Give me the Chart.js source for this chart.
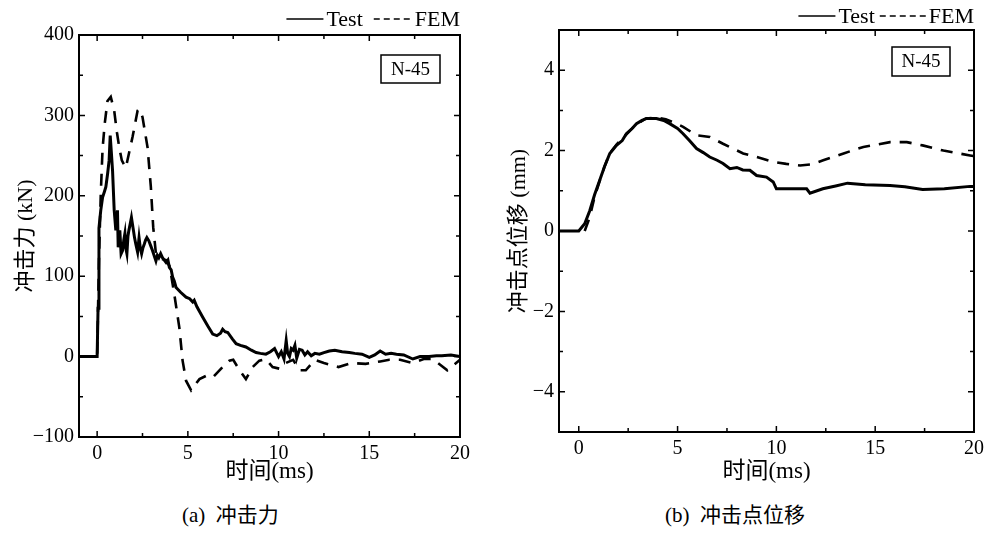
<!DOCTYPE html>
<html>
<head>
<meta charset="utf-8">
<script src="https://cdn.jsdelivr.net/npm/chart.js@4.4.1/dist/chart.umd.min.js"></script>
<style>
  body { margin: 0; background: #fff; width: 992px; height: 533px; position: relative; overflow: hidden; }
  canvas { position: absolute; top: 0; }
  .cap { position: absolute; top: 498px; font: 21px 'Liberation Serif', 'Noto Sans CJK SC', serif; color: #000; white-space: pre; }
</style>
</head>
<body>
<canvas id="forceChart" width="496" height="490" style="left:0"></canvas>
<canvas id="dispChart" width="496" height="490" style="left:496px"></canvas>
<div class="cap" style="left:182px">(a)  冲击力</div>
<div class="cap" style="left:665px">(b)  冲击点位移</div>
<script>
// (a) impact force, kN
var forceTestT = [-1, 0, 0.05, 0.1, 0.2, 0.3, 0.4, 0.48, 0.58, 0.66,
  0.72, 0.78, 0.85, 0.94, 1.03, 1.12, 1.16, 1.25, 1.32, 1.4,
  1.47, 1.53, 1.58, 1.64, 1.7, 1.75, 1.82, 1.89, 2.0, 2.06,
  2.13, 2.23, 2.31, 2.38, 2.45, 2.52, 2.6, 2.67, 2.74, 2.85,
  2.95, 3.05, 3.15, 3.24, 3.32, 3.4, 3.5, 3.6, 3.7, 3.8,
  3.9, 3.98, 4.08, 4.16, 4.25, 4.35, 4.6, 4.9, 5.1, 5.27,
  5.35, 5.5, 5.82, 6.1, 6.37, 6.6, 6.8, 6.92, 7.05, 7.2,
  7.45, 7.66, 7.9, 8.2, 8.5, 8.76, 9.0, 9.3, 9.55, 9.78,
  10.0, 10.15, 10.3, 10.42, 10.5, 10.6, 10.7, 10.8, 10.9, 11.0,
  11.15, 11.3, 11.45, 11.6, 11.8, 12.0, 12.25, 12.5, 12.8, 13.1,
  13.5, 13.9, 14.2, 14.6, 15.0, 15.3, 15.6, 15.9, 16.2, 16.5,
  16.9, 17.4, 17.8, 18.3, 18.7, 19.0, 19.5, 20];
var forceTest = [0, 0, 60, 160, 182, 198, 205, 211, 228, 244,
  275, 255, 231, 182, 157, 182, 136, 157, 128, 132,
  145, 153, 135, 128, 150, 157, 165, 173, 157, 148,
  140, 130, 148, 135, 128, 135, 140, 145, 148, 144,
  138, 132, 125, 119, 126, 123, 128, 123, 120, 117,
  120, 111, 108, 99, 94, 86, 80, 74, 72, 68,
  70, 62, 49, 38, 28, 26, 29, 34, 31, 30,
  22, 16, 14, 12, 8, 5, 4, 3, 6, 10,
  0, 6, -3, 20, 4, 0, 10, 8, 14, -2,
  9, 8, 2, 6, 1, 4, 3, 5, 7, 8,
  6, 5, 4, 3, -1, 2, 7, 3, 4, 3,
  2, -3, 0, 0, 1, 1, 2, 0];
var forceFemT = [-1, 0, 0.1, 0.2, 0.3, 0.42, 0.57, 0.75, 0.94, 1.09, 1.22, 1.36, 1.58, 1.95, 2.23, 2.32, 2.5, 2.78, 2.96, 3.09,
  3.24, 3.5, 3.8, 4.0, 4.25, 4.53, 4.71, 4.9, 5.18, 5.4, 5.64, 6.0, 6.37, 6.92, 7.29, 7.5, 7.85, 8.2, 8.57, 8.94,
  9.3, 9.67, 10.04, 10.4, 10.8, 11.16, 11.5, 12.0, 12.5, 13.3, 14.0, 14.8, 15.6, 16.1, 16.7, 17.4, 18.0, 18.5, 19.3, 20];
var forceFem = [0, 0, 120, 202, 259, 290, 318, 323, 306, 279, 260, 244, 235, 273, 306, 308, 298, 260, 211, 161,
  128, 122, 120, 112, 78, 36, -5, -30, -42, -35, -28, -24, -26, -13, -5, -4, -17, -28, -13, -5,
  -3, -13, -15, -8, -4, -17, -17, -4, -8, -13, -8, -9, -6, -4, -4, -8, -3, -3, -17, -4];

// (b) impact point displacement, mm
var dispTestT = [-1, 0, 0.3, 0.56, 0.8, 1.06, 1.3, 1.57, 1.91, 2.2, 2.41, 2.7, 2.92, 3.2, 3.43, 3.7, 3.93, 4.3, 4.6, 5.0,
  5.28, 5.6, 5.96, 6.3, 6.63, 7.0, 7.3, 7.65, 8.0, 8.3, 8.66, 9.0, 9.5, 9.84, 10.0, 10.7, 11.53, 11.7, 12.35, 13.0,
  13.6, 14.5, 15.75, 16.5, 17.4, 18.5, 19.8, 20];
var dispTest = [0, 0, 0.18, 0.51, 0.9, 1.26, 1.6, 1.93, 2.13, 2.25, 2.42, 2.55, 2.67, 2.75, 2.8, 2.8, 2.8, 2.75, 2.67, 2.55,
  2.42, 2.25, 2.05, 1.95, 1.84, 1.76, 1.68, 1.55, 1.58, 1.52, 1.51, 1.38, 1.34, 1.22, 1.05, 1.05, 1.05, 0.94, 1.05, 1.12,
  1.19, 1.15, 1.13, 1.1, 1.03, 1.05, 1.11, 1.11];
var dispFemT = [0.3, 0.56, 0.8, 1.06, 1.3, 1.57, 1.91, 2.2, 2.5, 2.9, 3.4, 3.9, 4.4, 4.9, 5.28, 5.96, 6.63, 7.3, 8.32, 9.0,
  9.84, 10.5, 11.2, 11.8, 12.37, 13.4, 14.4, 15.75, 16.6, 17.4, 18.45, 19.8, 20];
var dispFem = [0, 0.35, 0.85, 1.25, 1.6, 1.93, 2.15, 2.3, 2.45, 2.65, 2.8, 2.82, 2.78, 2.68, 2.59, 2.38, 2.34, 2.17, 1.93, 1.84,
  1.72, 1.67, 1.63, 1.66, 1.76, 1.93, 2.09, 2.21, 2.21, 2.13, 2.0, 1.88, 1.86];

var xTicks = [0, 5, 10, 15, 20];
var forceTicks = [-100, 0, 100, 200, 300, 400];
var dispTicks = [-4, -2, 0, 2, 4];

var serif = "'Liberation Serif', 'Times New Roman', serif";
var cjk = "'Liberation Serif', 'Noto Sans CJK SC', serif";

function pairs(xs, ys) {
  return xs.map(function (x, i) { return { x: x, y: ys[i] }; });
}
function minus(v) { return v < 0 ? '\u2212' + Math.abs(v) : '' + v; }

// frame with inward ticks on all four sides, sample box, legend above the plot
var framePlugin = {
  id: 'frame',
  afterDraw: function (chart, args, opts) {
    var ctx = chart.ctx, a = chart.chartArea;
    var xs = chart.scales.x, ys = chart.scales.y;
    ctx.save();
    ctx.strokeStyle = '#000';
    ctx.lineWidth = 1.5;
    function tick(v, len, isX) {
      if (isX) {
        var px = xs.getPixelForValue(v);
        ctx.beginPath();
        ctx.moveTo(px, a.bottom); ctx.lineTo(px, a.bottom - len);
        ctx.moveTo(px, a.top); ctx.lineTo(px, a.top + len);
        ctx.stroke();
      } else {
        var py = ys.getPixelForValue(v);
        ctx.beginPath();
        ctx.moveTo(a.left, py); ctx.lineTo(a.left + len, py);
        ctx.moveTo(a.right, py); ctx.lineTo(a.right - len, py);
        ctx.stroke();
      }
    }
    for (var v = 0; v <= 20; v += 2.5) tick(v, v % 5 === 0 ? 6 : 4, true);
    for (var w = ys.min; w <= ys.max + 1e-9; w += opts.yMinor) {
      var major = Math.abs(Math.round(w / opts.yMajor) * opts.yMajor - w) < 1e-9;
      tick(w, major ? 6 : 4, false);
    }
    ctx.lineWidth = 2;
    ctx.strokeRect(a.left, a.top, a.right - a.left, a.bottom - a.top);

    // sample label box
    ctx.lineWidth = 1.5;
    var bx = a.right - opts.boxRight - opts.boxW, by = a.top + opts.boxTop;
    ctx.strokeRect(bx, by, opts.boxW, opts.boxH);
    ctx.fillStyle = '#000';
    ctx.font = '19px ' + serif;
    ctx.textAlign = 'center';
    ctx.textBaseline = 'middle';
    ctx.fillText(opts.label, bx + opts.boxW / 2, by + opts.boxH / 2 + 1);

    // legend
    ctx.font = '22px ' + serif;
    ctx.textAlign = 'left';
    ctx.textBaseline = 'alphabetic';
    var base = a.top - opts.legendDrop;
    var x = a.right - ctx.measureText('FEM').width;
    ctx.fillText('FEM', x, base);
    var lineY = base - 7;
    ctx.lineWidth = 1.3;
    ctx.setLineDash([6, 4]);
    ctx.beginPath(); ctx.moveTo(x - 2 - opts.dashLen, lineY); ctx.lineTo(x - 2, lineY); ctx.stroke();
    ctx.setLineDash([]);
    x = x - 2 - opts.dashLen - opts.gap - ctx.measureText('Test').width;
    ctx.fillText('Test', x, base);
    ctx.beginPath(); ctx.moveTo(x - 3 - 37, lineY); ctx.lineTo(x - 3, lineY); ctx.stroke();
    ctx.restore();
  }
};

function makeChart(id, test, fem, yMin, yMax, yTickVals, yTitle, frameOpts, yWidth, titlePad, xHeight, padRight, padTop) {
  return new Chart(document.getElementById(id).getContext('2d'), {
    type: 'line',
    data: {
      datasets: [
        { label: 'Test', data: test, borderColor: '#000', borderWidth: 3, pointRadius: 0, tension: 0 },
        { label: 'FEM', data: fem, borderColor: '#000', borderWidth: 2.6, borderDash: [12, 9], pointRadius: 0, tension: 0 }
      ]
    },
    options: {
      responsive: false,
      animation: false,
      layout: { padding: { left: 0, right: padRight, top: padTop, bottom: 0 } },
      plugins: { legend: { display: false }, tooltip: { enabled: false }, frame: frameOpts },
      scales: {
        x: {
          type: 'linear', min: -1, max: 20,
          afterBuildTicks: function (s) { s.ticks = xTicks.map(function (v) { return { value: v }; }); },
          afterFit: function (s) { s.height = xHeight; },
          grid: { display: false, drawTicks: false },
          border: { display: false },
          ticks: { color: '#000', padding: 5, maxRotation: 0, font: { family: serif, size: 20 } },
          title: { display: true, text: '时间(ms)', color: '#000', font: { family: cjk, size: 23 }, padding: { top: 0, bottom: 4 } }
        },
        y: {
          type: 'linear', min: yMin, max: yMax,
          afterBuildTicks: function (s) { s.ticks = yTickVals.map(function (v) { return { value: v }; }); },
          afterFit: function (s) { s.width = yWidth; },
          grid: { display: false, drawTicks: false },
          border: { display: false },
          ticks: { color: '#000', padding: 5, callback: function (v) { return minus(v); }, font: { family: serif, size: 20 } },
          title: { display: true, text: yTitle, color: '#000', font: { family: cjk, size: 22 }, padding: { top: titlePad, bottom: 0 } }
        }
      }
    },
    plugins: [framePlugin]
  });
}

makeChart('forceChart', pairs(forceTestT, forceTest), pairs(forceFemT, forceFem), -100, 400, forceTicks, '冲击力 (kN)',
  { label: 'N-45', yMajor: 100, yMinor: 50, boxRight: 20, boxTop: 20, boxW: 59, boxH: 28, legendDrop: 9, dashLen: 39, gap: 11 },
  79, 13, 53, 36, 35);

makeChart('dispChart', pairs(dispTestT, dispTest), pairs(dispFemT, dispFem), -5, 5, dispTicks, '冲击点位移 (mm)',
  { label: 'N-45', yMajor: 2, yMinor: 1, boxRight: 24, boxTop: 17, boxW: 58, boxH: 29, legendDrop: 7, dashLen: 47, gap: 5 },
  63, 10, 58, 18, 30);
</script>
</body>
</html>
